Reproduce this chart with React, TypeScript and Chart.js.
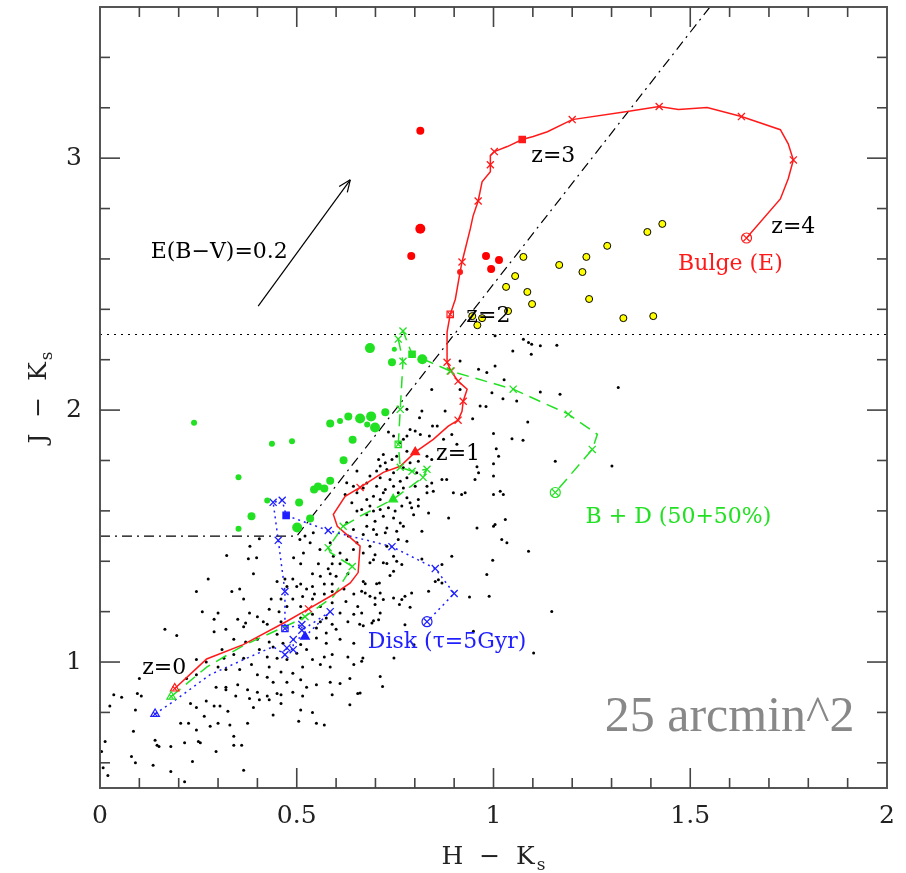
import React, { useEffect, useRef } from 'react';
import { Chart, registerables } from 'chart.js';
Chart.register(...registerables);

// ---------------- DATA (H-Ks, J-Ks) ----------------
const fieldGalaxies: [number, number][] = [
  [0.39,1.35],[0.51,1.39],[0.555,1.39],[0.58,1.37],[0.59,1.39],[0.61,1.39],[0.54,1.35],[0.56,1.34],[0.585,1.35],[0.60,1.34],[0.63,1.35],[0.51,1.31],[0.54,1.30],[0.57,1.31],[0.59,1.31],[0.45,1.32],[0.47,1.33],[0.49,1.33],[0.275,1.33],[0.475,1.30],[0.50,1.30],[0.525,1.29],[0.545,1.27],[0.57,1.27],[0.59,1.28],[0.62,1.29],[0.645,1.27],[0.355,1.29],[0.335,1.28],[0.245,1.28],[0.365,1.25],[0.435,1.25],[0.46,1.25],[0.49,1.25],[0.515,1.26],[0.54,1.25],[0.475,1.22],[0.51,1.22],[0.56,1.22],[0.59,1.235],[0.625,1.24],[0.655,1.22],[0.43,1.21],[0.455,1.20],[0.26,1.20],[0.30,1.195],[0.38,1.195],[0.40,1.18],[0.415,1.16],[0.425,1.15],[0.37,1.155],[0.35,1.17],[0.365,1.14],[0.29,1.17],[0.46,1.16],[0.51,1.175],[0.575,1.175],[0.61,1.195],[0.645,1.19],[0.54,1.19],[0.56,1.16],[0.59,1.15],[0.63,1.16],[0.66,1.15],[0.29,1.12],[0.165,1.13],[0.195,1.105],[0.32,1.13],[0.55,1.135],[0.575,1.115],[0.60,1.13],[0.45,1.11],[0.44,1.06],[0.43,1.08],[0.465,1.075],[0.51,1.07],[0.55,1.095],[0.575,1.075],[0.61,1.09],[0.645,1.075],[0.34,1.09],[0.37,1.08],[0.40,1.09],[0.31,1.05],[0.315,1.015],[0.34,1.03],[0.365,1.015],[0.405,1.05],[0.425,1.02],[0.45,1.015],[0.475,1.01],[0.50,1.035],[0.525,1.05],[0.54,1.01],[0.57,1.02],[0.59,1.03],[0.63,1.02],[0.245,1.01],[0.27,1.00],[0.30,0.98],[0.32,0.97],[0.355,0.97],[0.385,0.99],[0.43,0.98],[0.46,0.96],[0.49,0.955],[0.515,0.98],[0.56,0.99],[0.585,0.98],[0.645,0.99],[0.40,0.95],[0.425,0.94],[0.44,0.92],[0.475,0.92],[0.51,0.93],[0.525,0.90],[0.55,0.91],[0.585,0.92],[0.61,0.915],[0.635,0.935],[0.245,0.95],[0.22,0.935],[0.10,0.935],[0.32,0.90],[0.35,0.91],[0.375,0.89],[0.40,0.88],[0.425,0.865],[0.45,0.875],[0.46,0.87],[0.49,0.88],[0.515,0.865],[0.59,0.87],[0.655,0.875],[0.025,0.825],[0.035,0.87],[0.055,0.86],[0.095,0.875],[0.105,0.865],[0.09,0.81],[0.295,0.90],[0.32,0.89],[0.345,0.865],[0.38,0.855],[0.405,0.85],[0.43,0.85],[0.46,0.835],[0.23,0.835],[0.27,0.845],[0.245,0.82],[0.29,0.825],[0.305,0.825],[0.325,0.805],[0.39,0.82],[0.44,0.79],[0.51,0.81],[0.54,0.80],[0.635,0.83],[0.205,0.757],[0.225,0.757],[0.265,0.785],[0.30,0.757],[0.245,0.73],[0.28,0.745],[0.33,0.75],[0.375,0.757],[0.505,0.765],[0.55,0.757],[0.57,0.75],[0.085,0.725],[0.14,0.69],[0.145,0.67],[0.15,0.665],[0.18,0.665],[0.215,0.68],[0.25,0.685],[0.255,0.68],[0.295,0.645],[0.34,0.705],[0.34,0.67],[0.36,0.67],[0.013,0.685],[0.004,0.645],[0.08,0.625],[0.09,0.60],[0.135,0.59],[0.235,0.605],[0.18,0.565],[0.365,0.57],[0.008,0.58],[0.02,0.55],[0.215,0.525],
  [1.004,2.295],[1.076,2.281],[1.089,2.268],[1.097,2.261],[1.119,2.255],[1.161,2.257],[1.049,2.235],[1.096,2.222],[0.915,2.195],[0.962,2.162],[0.983,2.149],[1.004,2.175],[1.027,2.12],[0.915,2.082],[0.843,2.082],[0.996,2.069],[1.024,2.045],[1.059,2.036],[1.119,2.072],[0.966,2.016],[0.981,2.014],[0.78,2.003],[0.818,1.996],[0.877,1.996],[1.169,2.063],[1.087,1.953],[0.812,1.97],[0.857,1.937],[0.845,1.937],[0.947,1.966],[0.788,1.923],[0.801,1.917],[0.771,1.884],[0.746,1.897],[0.733,1.913],[0.907,1.864],[1.0,1.907],[1.047,1.886],[1.075,1.88],[0.814,1.903],[0.837,1.897],[0.873,1.884],[0.894,1.903],[0.78,1.897],[0.763,1.87],[1.007,1.847],[1.013,1.817],[1.0,1.787],[1.0,1.738],[0.958,1.775],[0.962,1.751],[0.953,1.725],[1.157,1.797],[1.301,1.778],[0.72,1.824],[0.708,1.804],[0.725,1.791],[0.742,1.804],[0.754,1.817],[0.78,1.837],[0.712,1.778],[0.729,1.764],[0.703,1.758],[0.686,1.738],[0.712,1.731],[0.746,1.751],[0.771,1.771],[0.788,1.791],[0.809,1.797],[0.831,1.817],[0.843,1.804],[0.737,1.725],[0.763,1.718],[0.78,1.731],[0.805,1.751],[0.843,1.711],[0.869,1.725],[0.881,1.725],[0.831,1.698],[0.801,1.698],[0.771,1.691],[0.746,1.698],[0.725,1.685],[0.703,1.698],[0.678,1.711],[0.669,1.691],[0.695,1.658],[0.72,1.672],[0.712,1.645],[0.678,1.645],[0.686,1.619],[0.665,1.605],[0.758,1.672],[0.78,1.652],[0.788,1.632],[0.809,1.645],[0.831,1.672],[0.847,1.678],[0.898,1.672],[0.928,1.672],[0.919,1.665],[1.0,1.665],[1.017,1.678],[1.025,1.665],[0.792,1.612],[0.809,1.619],[0.767,1.619],[0.75,1.599],[0.733,1.612],[0.712,1.605],[0.695,1.599],[0.678,1.585],[0.699,1.559],[0.72,1.579],[0.746,1.572],[0.763,1.552],[0.729,1.532],[0.695,1.526],[0.678,1.539],[0.669,1.506],[0.703,1.506],[0.725,1.513],[0.754,1.519],[0.771,1.539],[0.797,1.585],[0.835,1.592],[0.886,1.572],[0.818,1.519],[0.758,1.486],[0.78,1.479],[0.729,1.46],[0.686,1.46],[0.669,1.433],[0.699,1.426],[0.746,1.42],[1.03,1.566],[1.0,1.539],[1.004,1.546],[0.958,1.532],[1.021,1.486],[1.034,1.473],[1.089,1.44],[0.894,1.42],[0.818,1.409],[0.695,1.406],[1.317,2.09],
  [0.686,1.394],[0.72,1.394],[0.729,1.391],[0.754,1.40],[0.767,1.387],[0.746,1.36],[0.737,1.343],[0.669,1.32],[0.674,1.311],[0.703,1.311],[0.71,1.314],[0.665,1.281],[0.674,1.274],[0.686,1.261],[0.712,1.274],[0.699,1.254],[0.72,1.248],[0.746,1.254],[0.767,1.248],[0.775,1.261],[0.792,1.274],[0.761,1.228],[0.788,1.217],[0.699,1.228],[0.665,1.195],[0.712,1.195],[0.708,1.168],[0.695,1.164],[0.691,1.155],[0.669,1.144],[0.775,1.148],[0.835,1.281],[0.852,1.32],[0.86,1.327],[0.869,1.314],[0.869,1.387],[0.983,1.347],[0.998,1.404],[0.939,1.258],[0.989,1.261],[1.148,1.201],[0.949,1.122],[0.798,1.069],[0.747,1.016],[0.668,1.016],[0.665,1.003],[0.712,0.943],[0.718,0.903],[0.661,0.877],[1.102,1.036],
  [0.405,1.489],[0.381,1.46],[0.322,1.423],[0.377,1.41],[0.398,1.414],[0.508,1.486],[0.521,1.5],[0.542,1.513],[0.534,1.473],[0.559,1.447],[0.585,1.473],[0.61,1.433],[0.492,1.414],[0.517,1.433],[0.627,1.712],[0.644,1.698],[0.623,1.665],[0.653,1.672],[0.64,1.632],[0.653,1.599],[0.653,1.758],[0.627,1.553],[0.644,1.526],[0.631,1.5],[0.653,1.473],[0.593,1.42],[0.627,1.406],[0.644,1.447]
];

const greenGalaxies: [number, number][] = [
  [0.239,1.95],[0.437,1.866],[0.488,1.876],[0.352,1.733],[0.352,1.529],[0.385,1.579],[0.425,1.641],[0.506,1.633],[0.501,1.534],[0.534,1.57],[0.544,1.685],[0.554,1.697],[0.57,1.689],[0.585,1.72],[0.619,1.801],[0.642,1.882],[0.585,1.947],[0.61,1.957],[0.631,1.975],[0.661,1.967],[0.689,1.975],[0.679,1.943],[0.699,1.931],[0.725,1.991],[0.686,2.246],[0.748,2.242],[0.742,2.19],[0.819,2.202]
];
const greenSizes = [3,3,3,3,3,4,3,4,5,4,4,4,4,4,4,4,4,3,4,5,5,3,5,4,5,2.5,4,5];

const redGalaxies: [number, number][] = [
  [0.814,3.109],[0.814,2.72],[0.791,2.612],[0.981,2.612],[1.014,2.596],[0.994,2.56]
];
const redSizes = [4,5,4,4,4,4];

const yellowGalaxies: [number, number][] = [
  [1.076,2.608],[1.055,2.532],[1.032,2.489],[1.086,2.469],[1.098,2.421],[1.167,2.576],[1.236,2.608],[1.226,2.548],[1.289,2.652],[1.243,2.441],[1.391,2.707],[1.429,2.739],[1.33,2.365],[1.406,2.373],[0.971,2.365],[0.946,2.373],[0.959,2.337],[1.037,2.393]
];

// Bulge (E) track
const bulgeTrack: [number, number][] = [
  [0.19,0.895],[0.246,0.976],[0.271,1.012],[0.364,1.069],[0.475,1.162],[0.53,1.211],[0.593,1.268],[0.636,1.314],[0.656,1.355],[0.661,1.46],[0.603,1.539],[0.593,1.586],[0.623,1.658],[0.661,1.693],[0.72,1.753],[0.763,1.777],[0.801,1.833],[0.847,1.884],[0.885,1.936],[0.91,1.96],[0.92,1.995],[0.923,2.035],[0.933,2.083],[0.91,2.115],[0.892,2.155],[0.882,2.19],[0.882,2.31],[0.89,2.38],[0.903,2.44],[0.915,2.548],[0.92,2.588],[0.941,2.719],[0.948,2.77],[0.961,2.83],[0.971,2.906],[0.992,2.946],[0.992,2.974],[0.992,3.01],[1.002,3.026],[1.035,3.046],[1.073,3.074],[1.101,3.086],[1.137,3.105],[1.2,3.153],[1.34,3.185],[1.421,3.205],[1.47,3.193],[1.543,3.201],[1.63,3.165],[1.729,3.113],[1.749,3.057],[1.762,2.993],[1.749,2.918],[1.729,2.838],[1.643,2.683]
];
const bulgeSteps: [number, number][] = [
  [0.53,1.211],[0.661,1.693],[0.91,1.96],[0.923,2.035],[0.91,2.115],[0.892,2.155],[0.882,2.19],[0.92,2.588],[0.961,2.83],[0.992,2.974],[1.002,3.026],[1.2,3.153],[1.421,3.205],[1.63,3.165],[1.762,2.993]
];
const bulgeZ: [number, number][] = [[0.19,0.895],[0.801,1.833],[0.89,2.38],[1.073,3.074],[1.643,2.683]];
const bulgeExtra: [number, number][] = [[0.915,2.548]];

// B + D track
const bdTrack: [number, number][] = [
  [0.181,0.863],[0.272,0.981],[0.364,1.065],[0.491,1.156],[0.521,1.18],[0.593,1.26],[0.641,1.379],[0.585,1.435],[0.58,1.454],[0.618,1.539],[0.661,1.579],[0.745,1.646],[0.821,1.733],[0.831,1.765],[0.793,1.757],[0.763,1.773],[0.758,1.864],[0.763,2.003],[0.77,2.194],[0.758,2.282],[0.77,2.314],[0.793,2.222],[0.89,2.155],[1.05,2.083],[1.19,1.984],[1.264,1.904],[1.251,1.844],[1.157,1.673]
];
const bdSteps: [number, number][] = [
  [0.521,1.18],[0.641,1.379],[0.58,1.454],[0.618,1.539],[0.821,1.733],[0.831,1.765],[0.793,1.757],[0.763,1.773],[0.763,2.003],[0.77,2.194],[0.758,2.282],[0.77,2.314],[0.89,2.155],[1.05,2.083],[1.19,1.984],[1.251,1.844]
];
const bdZ: [number, number][] = [[0.181,0.863],[0.745,1.646],[0.758,1.864],[0.793,2.222],[1.157,1.673]];

// Disk track
const diskTrack: [number, number][] = [
  [0.14,0.794],[0.186,0.843],[0.28,0.95],[0.364,1.009],[0.44,1.061],[0.47,1.029],[0.475,1.056],[0.491,1.049],[0.491,1.089],[0.521,1.101],[0.585,1.2],[0.513,1.126],[0.513,1.149],[0.47,1.133],[0.47,1.28],[0.453,1.483],[0.44,1.634],[0.463,1.642],[0.473,1.582],[0.58,1.522],[0.742,1.458],[0.852,1.371],[0.9,1.272],[0.831,1.16]
];
const diskSteps: [number, number][] = [
  [0.47,1.029],[0.475,1.056],[0.491,1.049],[0.491,1.089],[0.585,1.2],[0.513,1.126],[0.513,1.149],[0.47,1.28],[0.453,1.483],[0.44,1.634],[0.463,1.642],[0.58,1.522],[0.742,1.458],[0.852,1.371],[0.9,1.272]
];
const diskZ: [number, number][] = [[0.14,0.794],[0.521,1.101],[0.47,1.133],[0.473,1.582],[0.831,1.16]];

// Selection lines
const colourCut: [number, number][] = [[0,1.5],[0.5,1.5],[1.55,3.6]];
const eroCut: [number, number][] = [[0,2.3],[2,2.3]];
const reddeningFrom: [number, number] = [0.402,2.413];
const reddeningTo: [number, number] = [0.636,2.914];

const xTickLabels = [0, 0.5, 1, 1.5, 2];
const yTickLabels = [1, 2, 3];

// labels: [text, H-Ks, J-Ks, colour]
const labels: [string, number, number, string][] = [
  ['z=0', 0.163, 0.977, '#000'],
  ['z=1', 0.91, 1.825, '#000'],
  ['z=2', 0.987, 2.374, '#000'],
  ['z=3', 1.152, 3.006, '#000'],
  ['z=4', 1.762, 2.724, '#000'],
  ['Bulge (E)', 1.602, 2.58, '#ff1a1a'],
  ['B + D (50+50%)', 1.47, 1.574, '#22e022'],
  ['Disk (\u03c4=5Gyr)', 0.882, 1.077, '#1f1fff'],
  ['E(B\u2212V)=0.2', 0.303, 2.628, '#000'],
];
const areaLabel: [string, number, number] = ['25 arcmin^2', 1.6, 0.778];

// ---------------- helpers ----------------
const RED = '#ff1a1a';
const GREEN = '#22e022';
const BLUE = '#1f1fff';
const pts = (a: [number, number][]) => a.map(([x, y]) => ({ x, y }));
const SERIF = '"DejaVu Serif", serif';

const lineDs = (data: [number, number][], color: string, width: number, dash: number[], order: number) => ({
  type: 'scatter' as const,
  data: pts(data),
  showLine: true,
  borderColor: color,
  borderWidth: width,
  borderDash: dash,
  pointRadius: 0,
  tension: 0,
  fill: false,
  order,
});

const markerDs = (data: [number, number][], opts: any, order: number) => ({
  type: 'scatter' as const,
  data: pts(data),
  showLine: false,
  order,
  ...opts,
});

const zStyles = ['triangle', 'triangle', 'rect', 'rect', 'circle'];
const zFill = (c: string) => ['rgba(0,0,0,0)', c, 'rgba(0,0,0,0)', c, 'rgba(0,0,0,0)'];
const zRadius = [5, 5, 4.5, 4.5, 5];
const zCross = [3, 0, 3.5, 0, 4.5];

const zMarkers = (data: [number, number][], c: string) => [
  markerDs(data, { pointStyle: zStyles, pointRadius: zRadius, backgroundColor: zFill(c), borderColor: c, borderWidth: 1.2 }, 3),
  markerDs(data, { pointStyle: 'crossRot', pointRadius: zCross, borderColor: c, borderWidth: 1.2 }, 3),
];

const decorPlugin = {
  id: 'decor',
  afterDraw(chart: any) {
    const { ctx, chartArea: a, scales } = chart;
    const xs = scales.x, ys = scales.y;
    const X = (v: number) => xs.getPixelForValue(v);
    const Y = (v: number) => ys.getPixelForValue(v);
    ctx.save();
    // frame
    ctx.strokeStyle = '#555';
    ctx.lineWidth = 2;
    ctx.strokeRect(a.left, a.top, a.right - a.left, a.bottom - a.top);
    // ticks
    ctx.lineWidth = 1.6;
    ctx.strokeStyle = '#444';
    const seg = (x1: number, y1: number, x2: number, y2: number) => {
      ctx.beginPath(); ctx.moveTo(x1, y1); ctx.lineTo(x2, y2); ctx.stroke();
    };
    for (let i = 1; i < 20; i++) {
      const px = X(i / 10);
      const len = i % 5 === 0 ? 20 : 10;
      seg(px, a.bottom, px, a.bottom - len);
      seg(px, a.top, px, a.top + len);
    }
    for (let i = 3; i <= 17; i++) {
      const py = Y(i / 5);
      const len = i % 5 === 0 ? 20 : 10;
      seg(a.left, py, a.left + len, py);
      seg(a.right, py, a.right - len, py);
    }
    // reddening arrow
    ctx.strokeStyle = '#000';
    ctx.lineWidth = 1.2;
    const x1 = X(reddeningFrom[0]), y1 = Y(reddeningFrom[1]);
    const x2 = X(reddeningTo[0]), y2 = Y(reddeningTo[1]);
    seg(x1, y1, x2, y2);
    const ang = Math.atan2(y2 - y1, x2 - x1);
    const hl = 13;
    seg(x2, y2, x2 - hl * Math.cos(ang - 0.4), y2 - hl * Math.sin(ang - 0.4));
    seg(x2, y2, x2 - hl * Math.cos(ang + 0.4), y2 - hl * Math.sin(ang + 0.4));
    // labels
    ctx.textAlign = 'center';
    ctx.textBaseline = 'middle';
    ctx.font = `22px ${SERIF}`;
    for (const [t, hx, jy, c] of labels) {
      ctx.fillStyle = c;
      ctx.fillText(t, X(hx), Y(jy));
    }
    ctx.fillStyle = '#888';
    ctx.font = '50px "Liberation Serif", serif';
    ctx.fillText(areaLabel[0], X(areaLabel[1]), Y(areaLabel[2]));
    // axis titles
    const title = (main: string, cx: number, cy: number, rot: number) => {
      ctx.save();
      ctx.translate(cx, cy);
      ctx.rotate(rot);
      ctx.fillStyle = '#222';
      ctx.font = `25px ${SERIF}`;
      const w1 = ctx.measureText(main).width;
      ctx.font = `17px ${SERIF}`;
      const w2 = ctx.measureText('s').width;
      const start = -(w1 + w2 + 2) / 2;
      ctx.textAlign = 'left';
      ctx.textBaseline = 'alphabetic';
      ctx.font = `25px ${SERIF}`;
      ctx.fillText(main, start, 9);
      ctx.font = `17px ${SERIF}`;
      ctx.fillText('s', start + w1 + 2, 15);
      ctx.restore();
    };
    title('H  \u2212  K', (a.left + a.right) / 2, 855, 0);
    title('J  \u2212  K', 37, (a.top + a.bottom) / 2, -Math.PI / 2);
    ctx.restore();
  },
};

export default function App() {
  const ref = useRef<HTMLCanvasElement | null>(null);
  useEffect(() => {
    if (!ref.current) return;
    const datasets: any[] = [
      markerDs(fieldGalaxies, { pointStyle: 'circle', pointRadius: 1.5, backgroundColor: '#000', borderWidth: 0 }, 20),
      lineDs(colourCut, '#000', 1.2, [10, 5, 2, 5], 15),
      lineDs(eroCut, '#000', 1.2, [2, 5], 15),
      lineDs(diskTrack, BLUE, 1.5, [2, 4], 10),
      lineDs(bdTrack, GREEN, 1.5, [12, 7], 10),
      lineDs(bulgeTrack, RED, 1.5, [], 9),
      markerDs(diskSteps, { pointStyle: 'crossRot', pointRadius: 5, borderColor: BLUE, borderWidth: 1.3 }, 4),
      markerDs(bdSteps, { pointStyle: 'crossRot', pointRadius: 5, borderColor: GREEN, borderWidth: 1.3 }, 4),
      markerDs(bulgeSteps, { pointStyle: 'crossRot', pointRadius: 5, borderColor: RED, borderWidth: 1.3 }, 4),
      ...zMarkers(diskZ, BLUE),
      ...zMarkers(bdZ, GREEN),
      ...zMarkers(bulgeZ, RED),
      markerDs(bulgeExtra, { pointStyle: 'circle', pointRadius: 3, backgroundColor: RED, borderWidth: 0 }, 3),
      markerDs(greenGalaxies, { pointStyle: 'circle', pointRadius: greenSizes, backgroundColor: GREEN, borderWidth: 0 }, 2),
      markerDs(redGalaxies, { pointStyle: 'circle', pointRadius: redSizes, backgroundColor: '#ff0000', borderWidth: 0 }, 2),
      markerDs(yellowGalaxies, { pointStyle: 'circle', pointRadius: 3.5, backgroundColor: '#ffff00', borderColor: '#000', borderWidth: 1 }, 2),
    ];
    const chart = new Chart(ref.current, {
      type: 'scatter',
      data: { datasets },
      options: {
        animation: false,
        responsive: false,
        events: [],
        layout: { padding: { top: 7, right: 19, left: 0, bottom: 0 } },
        plugins: { legend: { display: false }, tooltip: { enabled: false } },
        scales: {
          x: {
            type: 'linear', min: 0, max: 2,
            grid: { display: false, drawTicks: false },
            border: { display: false },
            afterBuildTicks: (s: any) => { s.ticks = xTickLabels.map((v) => ({ value: v })); },
            afterFit: (s: any) => { s.height = 85; s.paddingLeft = 0; s.paddingRight = 0; s.paddingTop = 0; s.paddingBottom = 0; },
            ticks: {
              autoSkip: false, maxRotation: 0, padding: 13, color: '#222',
              font: { family: 'DejaVu Serif', size: 25 },
              callback: (v: any) => String(v),
            },
          },
          y: {
            type: 'linear', min: 0.5, max: 3.6,
            grid: { display: false, drawTicks: false },
            border: { display: false },
            afterBuildTicks: (s: any) => { s.ticks = yTickLabels.map((v) => ({ value: v })); },
            afterFit: (s: any) => { s.width = 100; s.paddingLeft = 0; s.paddingRight = 0; s.paddingTop = 0; s.paddingBottom = 0; },
            ticks: {
              autoSkip: false, padding: 18, color: '#222',
              font: { family: 'DejaVu Serif', size: 25 },
              callback: (v: any) => String(v),
            },
          },
        },
      },
      plugins: [decorPlugin],
    } as any);
    return () => chart.destroy();
  }, []);
  return (
    <div style={{ position: 'absolute', left: 0, top: 0, width: 906, height: 873, background: '#fff' }}>
      <canvas ref={ref} width={906} height={873} style={{ width: 906, height: 873, display: 'block' }} />
    </div>
  );
}
